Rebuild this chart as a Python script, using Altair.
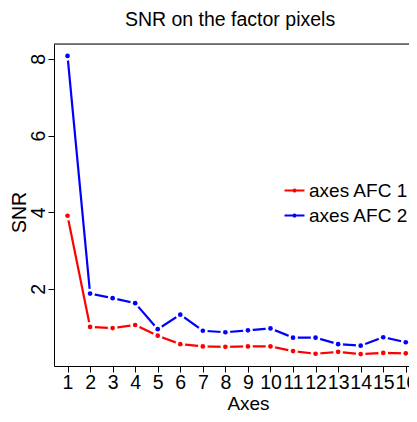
import altair as alt
import pandas as pd

axes_idx = list(range(1, 17))
afc1 = [3.91, 1.01, 0.98, 1.06, 0.78, 0.56, 0.50, 0.49, 0.50, 0.50, 0.38, 0.31, 0.36, 0.30, 0.33, 0.32]
afc2 = [8.08, 1.88, 1.76, 1.63, 0.95, 1.33, 0.91, 0.87, 0.92, 0.97, 0.73, 0.73, 0.56, 0.52, 0.74, 0.61]
series = ["axes AFC 1", "axes AFC 2"]
colors = ["#ff0000", "#0000ff"]
x_ticks = list(range(1, 17))
y_ticks = [2, 4, 6, 8]

rows = []
for i, a in enumerate(axes_idx):
    rows.append({"Axes": a, "SNR": afc1[i], "serie": series[0]})
    rows.append({"Axes": a, "SNR": afc2[i], "serie": series[1]})
df = pd.DataFrame(rows)

FONT = "Liberation Sans"
W, H = 355, 322

xscale = alt.Scale(domain=[0.4, 0.4 + 355 / 22.55], nice=False, zero=False)
yscale = alt.Scale(domain=[-0.01, 8.39], nice=False, zero=False)
cscale = alt.Scale(domain=series, range=colors)

sym = "M-1,0H1M-0.1,0A0.1,0.1,0,1,1,0.1,0A0.1,0.1,0,1,1,-0.1,0"
legend = alt.Legend(
    title=None, orient="none", legendX=229, legendY=135,
    symbolType=sym, symbolSize=400, symbolStrokeWidth=2.2,
    labelFontSize=19, labelFont=FONT, labelColor="black",
    labelOffset=3, rowPadding=3, padding=0, labelLimit=300,
)

xaxis = alt.Axis(
    values=x_ticks, title="Axes", labelOverlap=False, grid=False,
    tickSize=6, tickColor="black", domainColor="black", labelPadding=1,
    labelFontSize=19.5, labelFont=FONT, labelColor="black", labelAngle=0,
    labelBound=False, labelFlush=False,
    titleFontSize=19, titleFont=FONT, titleFontWeight="normal", titleColor="black",
    titleX=194, titleY=43, titleBaseline="alphabetic", titleAlign="center",
)
yaxis = alt.Axis(
    values=y_ticks, title="SNR", grid=False,
    tickSize=6, tickColor="black", domainColor="black", labelPadding=4,
    labelFontSize=19.5, labelFont=FONT, labelColor="black",
    labelAngle=270, labelAlign="center", labelBaseline="alphabetic",
    titleFontSize=19.5, titleFont=FONT, titleFontWeight="normal", titleColor="black",
    titleAngle=270, titleX=-29, titleY=168, titleBaseline="alphabetic", titleAlign="center",
)

base = alt.Chart(df)
X = alt.X("Axes:Q", scale=xscale, axis=xaxis)
Y = alt.Y("SNR:Q", scale=yscale, axis=yaxis)

lines = base.mark_line(strokeWidth=2.2).encode(
    x=X, y=Y,
    color=alt.Color("serie:N", scale=cscale, legend=legend),
)
gaps = base.mark_point(filled=True, opacity=1, strokeWidth=0).encode(
    x=X, y=Y,
    detail="serie:N",
    color=alt.value("white"),
    size=alt.value(95),
)
points = base.mark_circle(opacity=1, size=22).encode(
    x=X, y=Y,
    color=alt.Color("serie:N", scale=cscale, legend=legend),
)
topline = alt.Chart(pd.DataFrame({"k": [0]})).mark_rule(color="black", strokeWidth=1).encode(
    x=alt.value(0), x2=alt.value(W), y=alt.value(0)
)

chart = alt.layer(lines, gaps, points, topline).properties(
    width=W, height=H,
    title=alt.TitleParams(
        "SNR on the factor pixels", font=FONT, fontSize=19.5, fontWeight="normal",
        color="black", anchor="middle", frame="group", dx=-1.5, dy=18, offset=16,
        baseline="alphabetic",
    ),
    autosize=alt.AutoSizeParams(type="none"),
    padding={"left": 46, "top": 36, "right": 0, "bottom": 48},
).configure_view(stroke=None).configure(background="white")

chart.save("out.html", embed_options={"renderer": "svg", "actions": False})
